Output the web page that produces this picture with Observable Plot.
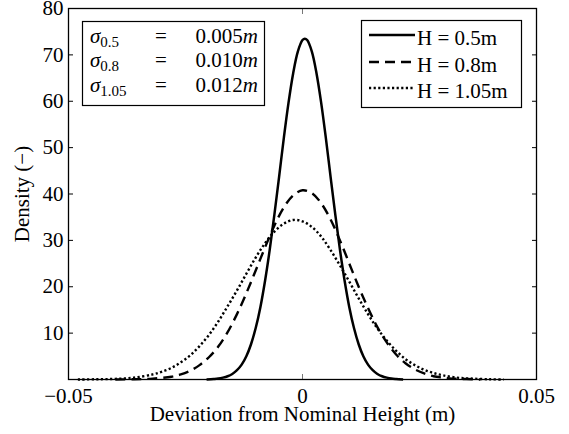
<!DOCTYPE html>
<html>
<head>
<meta charset="utf-8">
<script src="https://cdn.jsdelivr.net/npm/d3@7"></script>
<script src="https://cdn.jsdelivr.net/npm/@observablehq/plot@0.6"></script>
<style>
  body { margin: 0; background: white; }
  #wrap { position: relative; width: 569px; height: 434px; }
  #wrap > svg { position: absolute; left: 0; top: 0; }
  #wrap svg, #wrap svg text { font-family: "Liberation Serif", "Times New Roman", "DejaVu Serif", serif !important; }
</style>
</head>
<body>
<div id="wrap"></div>
<script>
// ---- data ----
const xSolid = [-0.0205,-0.019,-0.018,-0.017,-0.016,-0.015,-0.014,-0.013,-0.012,-0.011,-0.010,-0.009,-0.008,-0.007,-0.006,-0.005,-0.004,-0.003,-0.002,-0.001,0,0.0005,0.001,0.002,0.003,0.004,0.005,0.006,0.007,0.008,0.009,0.010,0.011,0.012,0.013,0.014,0.015,0.016,0.017,0.018,0.019,0.020,0.0215];
const ySolid = [0.0,0.1,0.2,0.4,0.7,1.2,2.0,3.2,5.0,7.6,11.1,15.6,21.3,28.0,35.6,43.7,52.0,59.6,66.0,70.7,73.2,73.5,73.2,70.7,66.0,59.6,52.0,43.7,35.6,28.0,21.3,15.6,11.1,7.6,5.0,3.2,2.0,1.2,0.7,0.4,0.2,0.1,0.0];

const xDashed = [-0.040,-0.036,-0.032,-0.028,-0.026,-0.024,-0.022,-0.020,-0.018,-0.016,-0.014,-0.012,-0.010,-0.008,-0.006,-0.004,-0.002,0,0.002,0.004,0.006,0.008,0.010,0.012,0.014,0.016,0.018,0.020,0.022,0.024,0.026,0.028,0.030,0.032,0.035,0.038];
const yDashed = [0.0,0.05,0.2,0.6,1.1,1.9,3.1,4.8,7.1,10.2,14.1,18.6,23.5,28.5,33.2,37.1,39.7,40.8,40.2,38.0,34.5,30.0,25.0,20.0,15.4,11.3,8.0,5.4,3.5,2.2,1.3,0.7,0.4,0.2,0.1,0.0];

const xDotted = [-0.048,-0.044,-0.040,-0.036,-0.032,-0.030,-0.028,-0.026,-0.024,-0.022,-0.020,-0.018,-0.016,-0.014,-0.012,-0.010,-0.008,-0.006,-0.004,-0.002,0,0.002,0.004,0.006,0.008,0.010,0.012,0.014,0.016,0.018,0.020,0.022,0.024,0.026,0.028,0.030,0.033,0.036,0.040,0.043];
const yDotted = [0.0,0.05,0.14,0.4,1.1,1.7,2.5,3.7,5.2,7.2,9.6,12.5,15.8,19.2,22.8,26.3,29.4,31.9,33.6,34.4,34.1,32.9,30.8,27.9,24.6,21.1,17.5,14.1,11.0,8.4,6.2,4.4,3.1,2.1,1.4,0.9,0.4,0.2,0.05,0.0];

const seriesNames = ["H = 0.5m", "H = 0.8m", "H = 1.05m"];
const sigmaSubs = ["0.5", "0.8", "1.05"];
const sigmaVals = ["0.005", "0.010", "0.012"];
const xTicks = [-0.05, 0, 0.05];
const yTicks = [10, 20, 30, 40, 50, 60, 70, 80];

// ---- build table ----
const dashes = [null, "10,6", "2.2,2.4"];
const widths = [2.5, 2.4, 2.4];
const xs = [xSolid, xDashed, xDotted];
const ys = [ySolid, yDashed, yDotted];
const rows = [];
seriesNames.forEach((s, k) => xs[k].forEach((x, i) => rows.push({series: s, x, y: ys[k][i]})));

const font = "'Liberation Serif', 'Times New Roman', 'DejaVu Serif', serif";
const fmt = d3.format("");

const lineMarks = seriesNames.map((s, k) =>
  Plot.line(rows.filter(d => d.series === s), {
    x: "x", y: "y", stroke: "black", strokeWidth: widths[k],
    strokeDasharray: dashes[k], strokeLinecap: "butt", curve: "catmull-rom"
  })
);

const chart = Plot.plot({
  width: 569,
  height: 434,
  marginLeft: 68,
  marginRight: 33,
  marginTop: 8,
  marginBottom: 55,
  style: {fontFamily: font, fontSize: "21px", color: "black", background: "white", overflow: "visible"},
  x: {domain: [-0.05, 0.05]},
  y: {domain: [0, 80]},
  marks: [
    ...lineMarks,
    Plot.axisX(xTicks, {anchor: "bottom", tickSize: 0, tickPadding: 9, tickFormat: fmt,
      label: "Deviation from Nominal Height (m)", labelAnchor: "center", labelArrow: "none", labelOffset: 41}),
    Plot.axisX(xTicks, {anchor: "bottom", tickSize: -5, tickFormat: () => "", label: null, stroke: "#777"}),
    Plot.axisX(xTicks, {anchor: "top", tickSize: -5, tickFormat: () => "", label: null, stroke: "#777"}),
    Plot.axisY(yTicks, {anchor: "left", tickSize: 0, tickPadding: 5,
      label: "Density (−)", labelAnchor: "center", labelArrow: "none", labelOffset: 54}),
    Plot.axisY(yTicks, {anchor: "left", tickSize: -5, tickFormat: () => "", label: null}),
    Plot.axisY(yTicks, {anchor: "right", tickSize: -5, tickFormat: () => "", label: null}),
    Plot.frame({stroke: "black", strokeWidth: 1.3})
  ]
});
document.getElementById("wrap").appendChild(chart);

// ---- annotation boxes (overlay) ----
const ov = d3.select("#wrap").append("svg")
  .attr("width", 569).attr("height", 434)
  .style("font-family", font);

// sigma box
ov.append("rect").attr("x", 82.5).attr("y", 21.5).attr("width", 182).attr("height", 84)
  .attr("fill", "white").attr("stroke", "black").attr("stroke-width", 1.2);
const sigBase = [43, 67, 92];
sigmaSubs.forEach((sub, i) => {
  const t = ov.append("text").attr("x", 90).attr("y", sigBase[i]).attr("font-size", 21);
  t.append("tspan").attr("font-style", "italic").text("σ");
  t.append("tspan").attr("font-size", 15).attr("dy", 4).text(sub);
  ov.append("text").attr("x", 161).attr("y", sigBase[i]).attr("font-size", 21)
    .attr("text-anchor", "middle").text("=");
  const v = ov.append("text").attr("x", 258).attr("y", sigBase[i]).attr("font-size", 21)
    .attr("text-anchor", "end");
  v.append("tspan").text(sigmaVals[i]);
  v.append("tspan").attr("font-style", "italic").text("m");
});

// series legend
ov.append("rect").attr("x", 361.5).attr("y", 20.5).attr("width", 160).attr("height", 87)
  .attr("fill", "white").attr("stroke", "black").attr("stroke-width", 1.2);
const legBase = [45, 72, 98];
seriesNames.forEach((s, i) => {
  ov.append("line").attr("x1", 369).attr("x2", 415)
    .attr("y1", legBase[i] - 10).attr("y2", legBase[i] - 10)
    .attr("stroke", "black").attr("stroke-width", widths[i])
    .attr("stroke-dasharray", dashes[i]);
  ov.append("text").attr("x", 417).attr("y", legBase[i]).attr("font-size", 21).text(s);
});
</script>
</body>
</html>
